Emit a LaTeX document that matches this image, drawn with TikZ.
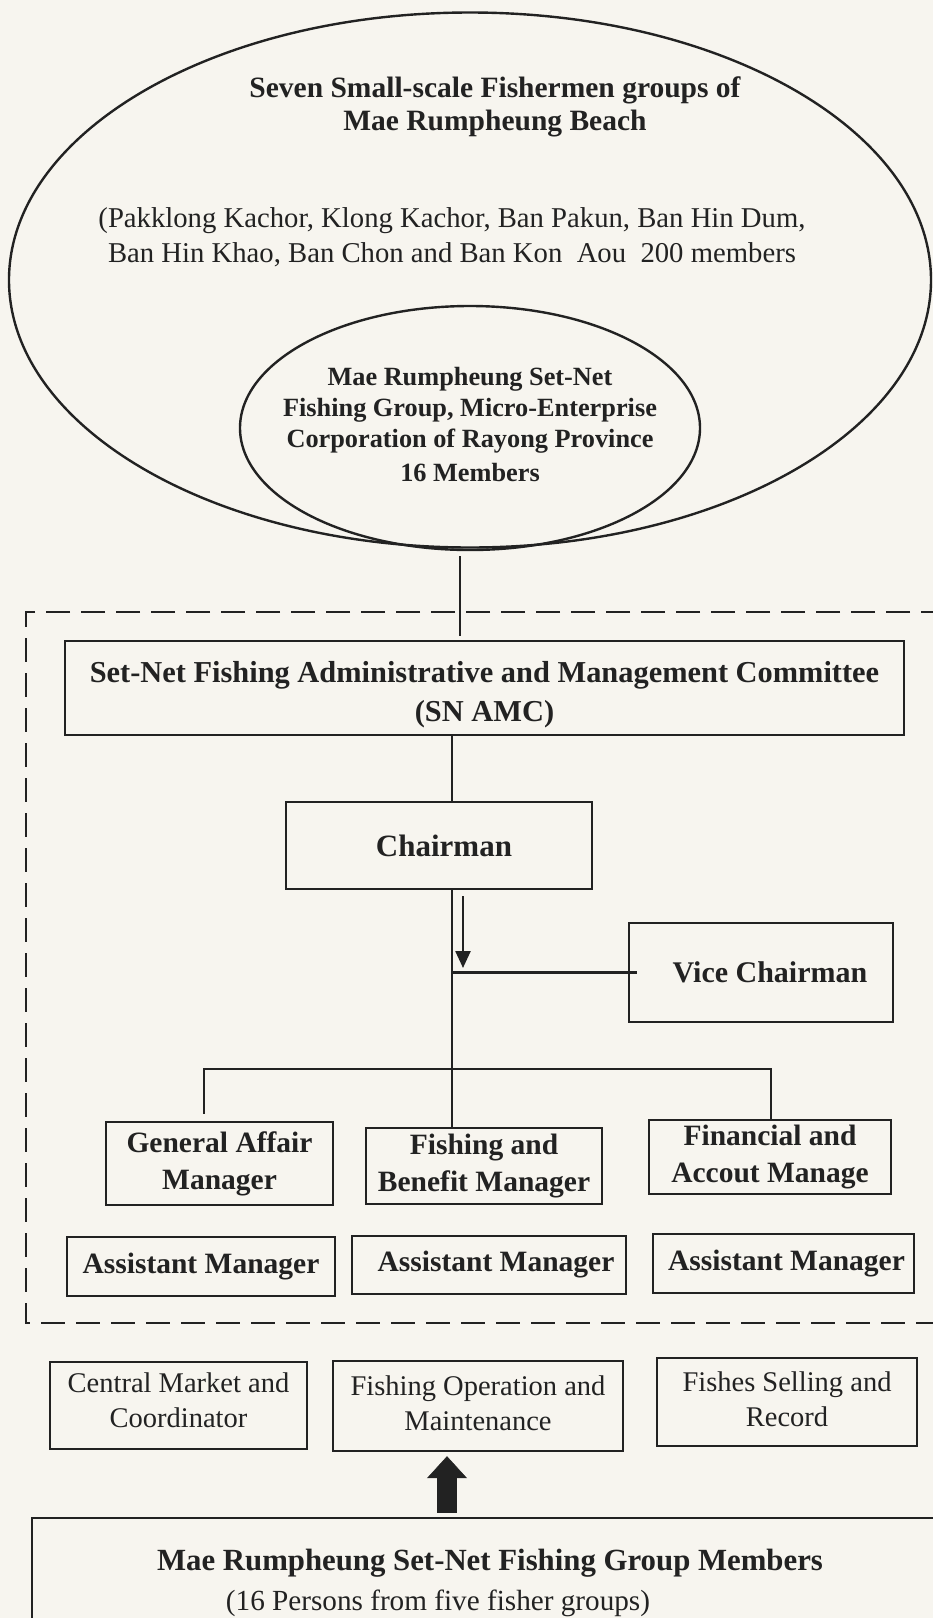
\documentclass[tikz,border=0pt]{standalone}
\usepackage{fontspec}
\setmainfont{Liberation Serif}
\usetikzlibrary{shapes.geometric,arrows.meta}
\definecolor{bg}{RGB}{247,245,239}
\definecolor{ink}{RGB}{34,34,34}
\newcommand\fsz[2]{\fontsize{#1}{#2}\selectfont}
\begin{document}
\begin{tikzpicture}[x=1pt,y=-1pt,
  every node/.style={text=ink},
  box/.style={draw=ink,line width=2.4pt,rectangle,inner sep=0pt,align=center},
  oval/.style={draw=ink,line width=2.4pt,ellipse,inner sep=0pt},
  conn/.style={draw=ink,line width=2.4pt},
  hb/.style={font=\bfseries\fsz{29.5}{37}},
  hr/.style={font=\fsz{28.5}{35}}]
\fill[bg] (0,0) rectangle (933,1618);
\useasboundingbox (0,0) rectangle (933,1618);

% ellipses
\node[oval,minimum width=922pt,minimum height=535pt] (big) at (470,280) {};
\node[oval,minimum width=460pt,minimum height=244pt] (small) at (470,428) {};
\node[font=\bfseries\fsz{29.5}{33},align=center] (title) at (495,107)
  {Seven Small-scale Fishermen groups of\\Mae Rumpheung Beach};
\node[font=\fsz{28.7}{35},align=center] (groups) at (452,237)
  {(Pakklong Kachor, Klong Kachor, Ban Pakun, Ban Hin Dum,\\Ban Hin Khao, Ban Chon and Ban Kon\ \ Aou\ \ 200 members};
\node[font=\bfseries\fsz{26.3}{31},align=center] (smalltxt) at (470,424)
  {Mae Rumpheung Set-Net\\Fishing Group, Micro-Enterprise\\Corporation of Rayong Province\\[3pt]16 Members};

% dashed region
\draw[ink,line width=2.4pt,dash pattern=on 24pt off 11pt] (945,612) -- (26,612) -- (26,1323) -- (945,1323);

% boxes
\node[box,minimum width=839pt,minimum height=94pt] (amc) at (484.5,688) {};
\node[font=\bfseries\fsz{30.4}{39},align=center] (amctxt) at ([yshift=-7pt]amc.center)
  {Set-Net Fishing Administrative and Management Committee\\(SN AMC)};
\node[box,minimum width=306pt,minimum height=87pt,font=\bfseries\fsz{31}{37}] (chair) at (439,845.5) {\hspace*{10pt}Chairman};
\node[box,minimum width=264pt,minimum height=99pt,font=\bfseries\fsz{30}{37}] (vice) at (761,972.5) {\hspace*{18pt}Vice Chairman};
\node[box,hb,minimum width=227pt,minimum height=83pt] (ga) at (219.5,1163.5) {General Affair\\Manager};
\node[box,hb,minimum width=236pt,minimum height=76pt] (fb) at (484,1166) {Fishing and\\Benefit Manager};
\node[box,hb,minimum width=242pt,minimum height=74pt] (fa) at (770,1157) {Financial and\\Accout Manage};
\node[box,hb,minimum width=268pt,minimum height=59pt] (am1) at (201,1266.5) {Assistant Manager};
\node[box,hb,minimum width=274pt,minimum height=58pt] (am2) at (489,1265) {\hspace*{14pt}Assistant Manager};
\node[box,hb,minimum width=261pt,minimum height=59pt] (am3) at (783.5,1263.5) {\hspace*{6pt}Assistant Manager};
\node[box,hr,minimum width=257pt,minimum height=87pt] (cm) at (178.5,1405.5) {Central Market and\\Coordinator\rule[-10pt]{0pt}{1pt}};
\node[box,hr,minimum width=290pt,minimum height=90pt] (fo) at (478,1406) {Fishing Operation and\\Maintenance\rule[-6pt]{0pt}{1pt}};
\node[box,hr,minimum width=260pt,minimum height=88pt] (fs) at (787,1402) {Fishes Selling and\\Record\rule[-6pt]{0pt}{1pt}};
\node[box,minimum width=928pt,minimum height=124pt] (members) at (496,1580) {};
\node[font=\bfseries\fsz{30.8}{36}] (mtitle) at (490,1563) {Mae Rumpheung Set-Net Fishing Group Members};
\node[font=\fsz{29.2}{35}] (mnote) at (438,1603) {(16 Persons from five fisher groups)};

% connectors
\coordinate (sp) at (452,0);
\coordinate (arrend) at (463,968);
\coordinate (brL) at (204,1069);
\coordinate (brR) at (771,1069);
\coordinate (ta) at (447,0);
\draw[conn,shorten <=5pt,shorten >=4pt] ([xshift=-10pt]small.south) -- ([xshift=-10pt]small.south |- amc.north);
\draw[conn] (amc.south -| sp) -- (chair.north -| sp);
\draw[conn] (chair.south -| sp) -- (fb.north -| sp);
\draw[conn,shorten <=6pt,-{Triangle[width=15pt,length=17pt]}] (chair.south -| arrend) -- (arrend);
\draw[conn] (vice.west -| sp) -- ([xshift=9pt]vice.west);
\draw[conn,shorten <=7pt] (brL |- ga.north) -- (brL) -- (brR) -- (brR |- fa.north);
\draw[draw=ink,line width=20pt,shorten <=4pt,shorten >=4pt,-{Triangle[width=40pt,length=22pt,line width=0.5pt]}]
  (members.north -| ta) -- (fo.south -| ta);
\end{tikzpicture}
\end{document}
